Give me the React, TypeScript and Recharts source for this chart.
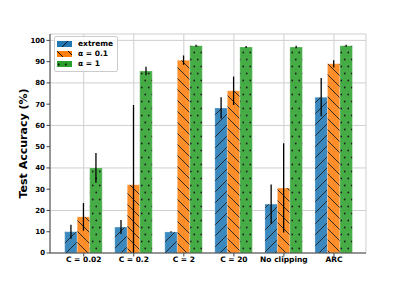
import React from "react";
import {
  BarChart,
  Bar,
  XAxis,
  YAxis,
  CartesianGrid,
  ErrorBar,
  Legend,
} from "recharts";

const categories = ["C = 0.02", "C = 0.2", "C = 2", "C = 20", "No clipping", "ARC"];
const extreme = [10, 12.2, 9.9, 68.2, 23, 73.3];
const extremeErr = [3.3, 3.3, 0.3, 5, 9.2, 9];
const alpha01 = [17, 32.1, 90.7, 76.3, 30.6, 89];
const alpha01Err = [6.5, 37.5, 2.2, 6.7, 21, 1.7];
const alpha1 = [40, 85.6, 97.5, 96.9, 96.9, 97.5];
const alpha1Err = [7, 2, 0.5, 0.5, 0.6, 0.5];
const yTicks = [0, 10, 20, 30, 40, 50, 60, 70, 80, 90, 100];

const series = [
  { key: "extreme", name: "extreme", color: "#1f77b4", pattern: "hatchFwd" },
  { key: "a01", name: "α = 0.1", color: "#ff7f0e", pattern: "hatchBack" },
  { key: "a1", name: "α = 1", color: "#2ca02c", pattern: "hatchDots" },
];

// errors are clipped at the axis floor like matplotlib does
const clip = (v: number, e: number) => [Math.min(e, v), e];

const data = categories.map((cat, i) => ({
  cat,
  extreme: extreme[i],
  extremeErr: clip(extreme[i], extremeErr[i]),
  a01: alpha01[i],
  a01Err: clip(alpha01[i], alpha01Err[i]),
  a1: alpha1[i],
  a1Err: clip(alpha1[i], alpha1Err[i]),
}));

const FONT = "'DejaVu Sans', sans-serif";

const Patterns = () => (
  <defs>
    <pattern id="hatchFwd" patternUnits="userSpaceOnUse" width="11" height="11">
      <rect width="11" height="11" fill="#1f77b4" />
      <path d="M0,11 L11,0 M-1,1 L1,-1 M10,12 L12,10" stroke="#000" strokeWidth="0.9" />
    </pattern>
    <pattern id="hatchBack" patternUnits="userSpaceOnUse" width="11" height="11">
      <rect width="11" height="11" fill="#ff7f0e" />
      <path d="M0,0 L11,11 M-1,10 L1,12 M10,-1 L12,1" stroke="#000" strokeWidth="0.9" />
    </pattern>
    <pattern id="hatchDots" patternUnits="userSpaceOnUse" width="7" height="14">
      <rect width="7" height="14" fill="#2ca02c" />
      <circle cx="1.75" cy="3.5" r="0.9" fill="#000" />
      <circle cx="5.25" cy="10.5" r="0.9" fill="#000" />
    </pattern>
  </defs>
);

const renderLegend = () => (
  <div
    style={{
      border: "1px solid #cccccc",
      borderRadius: 2,
      background: "rgba(255,255,255,0.8)",
      padding: "2px 4px 2px 2px",
      fontFamily: FONT,
      fontWeight: "bold",
      fontSize: 7.5,
      lineHeight: "10px",
      display: "inline-block",
    }}
  >
    {series.map((s) => (
      <div key={s.key} style={{ display: "flex", alignItems: "center", height: 10 }}>
        <svg width={15} height={6} style={{ marginRight: 6 }}>
          <rect width={15} height={6} fill={`url(#${s.pattern})`} />
        </svg>
        <span>{s.name}</span>
      </div>
    ))}
  </div>
);

export default function App() {
  return (
    <div style={{ position: "absolute", left: 0, top: 0, width: 407, height: 285, background: "#fff" }}>
      <BarChart
        width={407}
        height={285}
        data={data}
        margin={{ top: 34, right: 41, bottom: 12, left: 0 }}
        barGap={0}
        barSize={12.5}
      >
        <Patterns />
        <CartesianGrid stroke="#cfcfcf" strokeWidth={1} />
        <XAxis
          dataKey="cat"
          height={20}
          padding={{ left: 8.7, right: 7 }}
          interval={0}
          tickSize={3.5}
          tickMargin={0.5}
          stroke="#444"
          tick={{ fontSize: 7.5, fontWeight: "bold", fill: "#000", fontFamily: FONT }}
        />
        <XAxis xAxisId="top" dataKey="cat" orientation="top" height={0} tick={false} tickLine={false} stroke="#444" padding={{ left: 8.7, right: 7 }} />
        <YAxis
          domain={[0, 103]}
          ticks={yTicks}
          width={50}
          tickSize={3.5}
          tickMargin={1.5}
          stroke="#444"
          tick={{ fontSize: 7, fontWeight: "bold", fill: "#000", fontFamily: FONT }}
          label={{
            value: "Test Accuracy (%)",
            angle: -90,
            position: "center",
            dx: -2,
            style: { fontSize: 11, fontWeight: "bold", fill: "#000", fontFamily: FONT },
          }}
        />
        <YAxis yAxisId="right" orientation="right" domain={[0, 103]} width={0} tick={false} tickLine={false} stroke="#444" />
        <Legend
          layout="horizontal"
          verticalAlign="middle"
          align="center"
          content={renderLegend}
          wrapperStyle={{ left: 54, top: 36, width: "auto", height: "auto" }}
        />
        {series.map((s) => (
          <Bar
            key={s.key}
            dataKey={s.key}
            name={s.name}
            fill={`url(#${s.pattern})`}
            fillOpacity={0.88}
            stroke="#ffffff"
            strokeOpacity={0.35}
            strokeWidth={0.8}
            isAnimationActive={false}
          >
            <ErrorBar dataKey={`${s.key}Err`} width={0} stroke="#000" strokeWidth={1.3} direction="y" />
          </Bar>
        ))}
      </BarChart>
    </div>
  );
}
